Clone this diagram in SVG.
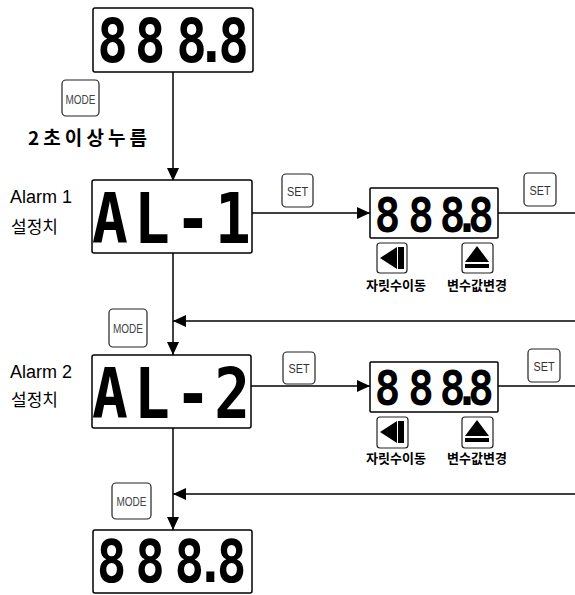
<svg xmlns="http://www.w3.org/2000/svg" width="575" height="595" viewBox="0 0 575 595">
<defs>
<style>
.box{fill:#fff;stroke:#000;stroke-width:1.5}
.btn{fill:#fff;stroke:#222;stroke-width:1.2}
.seg{font-family:"DejaVu Sans Mono",monospace;font-weight:bold;fill:#000;text-anchor:middle}
.mode{font-family:"Liberation Sans",Arial,sans-serif;font-size:12px;fill:#444;text-anchor:middle}
.set{font-family:"Liberation Sans",Arial,sans-serif;font-size:13px;fill:#333;text-anchor:middle}
.lbl{font-family:"Liberation Sans","Noto Sans CJK KR",sans-serif;font-size:18px;fill:#000}
.kr{font-family:"Noto Sans CJK KR",sans-serif;font-size:17px;fill:#000}
.hold{font-family:"Noto Sans CJK KR",sans-serif;font-size:19px;font-weight:bold;fill:#000}
.krb{font-family:"Noto Sans CJK KR",sans-serif;font-weight:bold;font-size:13px;fill:#000;text-anchor:middle}
.line{fill:none;stroke:#000;stroke-width:1.5}
</style>
<marker id="ah" viewBox="0 0 13 12" refX="13" refY="6" markerWidth="13" markerHeight="12" markerUnits="userSpaceOnUse" orient="auto">
<path d="M0,0 L13,6 L0,12 Z" fill="#000"/>
</marker>
</defs>
<rect width="575" height="595" fill="#fff"/>

<g id="connectors">
<path class="line" d="M173,72 V181" marker-end="url(#ah)"/>
<path class="line" d="M173,253 V355" marker-end="url(#ah)"/>
<path class="line" d="M173,428 V530" marker-end="url(#ah)"/>
<path class="line" d="M252,213 H370" marker-end="url(#ah)"/>
<path class="line" d="M498,213 H575"/>
<path class="line" d="M575,321 H173" marker-end="url(#ah)"/>
<path class="line" d="M251,386 H370" marker-end="url(#ah)"/>
<path class="line" d="M498,386 H575"/>
<path class="line" d="M575,494 H173" marker-end="url(#ah)"/>
</g>

<g id="display-top">
<rect class="box" x="93" y="8" width="160" height="64" rx="2"/>
<text class="seg" font-size="60" transform="translate(0,62) scale(0.85,1)" x="132.4 176.5 225.3 248.8 274.7" y="0">888.8</text>
</g>

<g id="mode-btn-1">
<rect class="btn" x="62" y="80" width="37" height="36" rx="4"/>
<text class="mode" x="80.5" y="104" textLength="30" lengthAdjust="spacingAndGlyphs">MODE</text>
</g>
<text id="hold-label" class="hold" x="28" y="145" textLength="119" lengthAdjust="spacing">2초이상누름</text>

<g id="al1">
<rect class="box" x="92" y="180" width="160" height="73" rx="2"/>
<text class="seg" font-size="70" transform="translate(0,243) scale(0.85,1)" x="129.4 178.8 227.1 274" y="0">AL-1</text>
</g>
<g id="al1-label">
<text class="lbl" x="10" y="203">Alarm 1</text>
<text class="kr" x="11" y="233">설정치</text>
</g>

<g id="set-1a">
<rect class="btn" x="282" y="174" width="31" height="33" rx="4"/>
<text class="set" x="297.5" y="196" textLength="21" lengthAdjust="spacingAndGlyphs">SET</text>
</g>
<g id="set-1b">
<rect class="btn" x="524" y="173" width="32" height="33" rx="4"/>
<text class="set" x="540" y="195" textLength="21" lengthAdjust="spacingAndGlyphs">SET</text>
</g>

<g id="disp-1">
<rect class="box" x="370" y="188" width="128" height="50" rx="1"/>
<text class="seg" font-size="48" transform="translate(0,232) scale(0.9,1)" x="430.6 467.8 502.8 518.9 534.4" y="0">888.8</text>
</g>

<g id="shift-btn-1">
<rect class="btn" x="377" y="243" width="30" height="30" rx="3"/>
<path d="M380,258 L397,247 L397,269 Z" fill="#000"/>
<rect x="398" y="247" width="6" height="22" fill="#000"/>
</g>
<text class="krb" x="396" y="290">자릿수이동</text>
<g id="up-btn-1">
<rect class="btn" x="462" y="243" width="31" height="30" rx="3"/>
<path d="M477,246 L489,262 L465,262 Z" fill="#000"/>
<rect x="465" y="264" width="24" height="4" fill="#000"/>
</g>
<text class="krb" x="477" y="290">변수값변경</text>

<g id="mode-btn-2">
<rect class="btn" x="109" y="309" width="38" height="38" rx="4"/>
<text class="mode" x="128" y="333" textLength="30" lengthAdjust="spacingAndGlyphs">MODE</text>
</g>

<g id="al2">
<rect class="box" x="92" y="355" width="159" height="73" rx="2"/>
<text class="seg" font-size="70" transform="translate(0,418) scale(0.85,1)" x="129.4 178.8 227.1 273" y="0">AL-2</text>
</g>
<g id="al2-label">
<text class="lbl" x="10" y="378">Alarm 2</text>
<text class="kr" x="11" y="406">설정치</text>
</g>

<g id="set-2a">
<rect class="btn" x="283" y="352" width="32" height="32" rx="4"/>
<text class="set" x="299" y="373" textLength="21" lengthAdjust="spacingAndGlyphs">SET</text>
</g>
<g id="set-2b">
<rect class="btn" x="528" y="349" width="32" height="33" rx="4"/>
<text class="set" x="544" y="371" textLength="21" lengthAdjust="spacingAndGlyphs">SET</text>
</g>

<g id="disp-2">
<rect class="box" x="370" y="362" width="128" height="50" rx="1"/>
<text class="seg" font-size="48" transform="translate(0,405) scale(0.9,1)" x="430.6 467.8 502.8 518.9 534.4" y="0">888.8</text>
</g>

<g id="shift-btn-2">
<rect class="btn" x="377" y="417" width="31" height="31" rx="3"/>
<path d="M380,432 L397,421 L397,443 Z" fill="#000"/>
<rect x="398" y="421" width="6" height="22" fill="#000"/>
</g>
<text class="krb" x="396" y="463">자릿수이동</text>
<g id="up-btn-2">
<rect class="btn" x="462" y="417" width="31" height="31" rx="3"/>
<path d="M477,420 L489,436 L465,436 Z" fill="#000"/>
<rect x="465" y="438" width="24" height="4" fill="#000"/>
</g>
<text class="krb" x="477" y="463">변수값변경</text>

<g id="mode-btn-3">
<rect class="btn" x="112" y="483" width="39" height="36" rx="4"/>
<text class="mode" x="131.5" y="506" textLength="30" lengthAdjust="spacingAndGlyphs">MODE</text>
</g>

<g id="display-bottom">
<rect class="box" x="93" y="530" width="159" height="63" rx="2"/>
<text class="seg" font-size="58" transform="translate(0,582) scale(0.85,1)" x="131.2 176.5 222.9 247.6 272.4" y="0">888.8</text>
</g>
</svg>
